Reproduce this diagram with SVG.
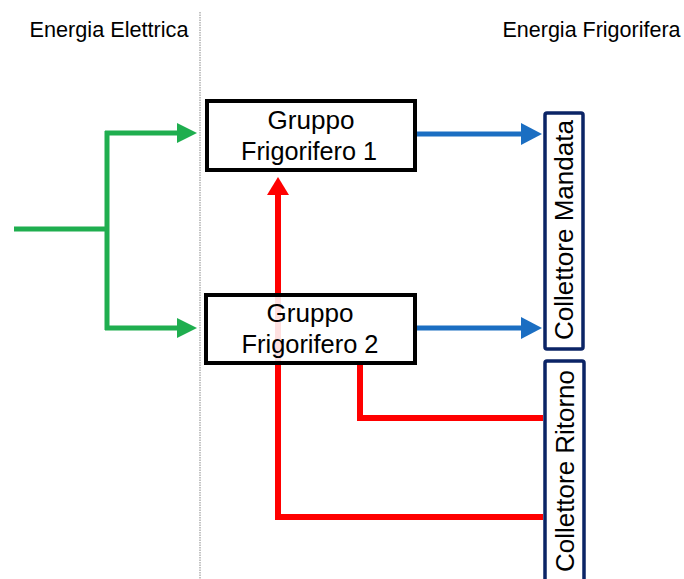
<svg xmlns="http://www.w3.org/2000/svg" width="684" height="579" viewBox="0 0 684 579">
<style>
  .lbl{font-family:"Liberation Sans",Arial,sans-serif;fill:#000;}
  .box{fill:#fff;stroke:#000;stroke-width:4;}
  .coll{fill:#fff;stroke:#0b2466;stroke-width:3.5;}
  .g{fill:none;stroke:#1fae4f;stroke-width:5;}
  .b{fill:none;stroke:#1b6ec2;stroke-width:5;}
  .r{fill:none;stroke:#ff0000;stroke-width:6;}
</style>
<rect width="684" height="579" fill="#fff"/>
<line x1="200" y1="12" x2="200" y2="579" stroke="#888" stroke-width="1" stroke-dasharray="1.5,1"/>
<text class="lbl" x="29.5" y="37" font-size="21.5" textLength="159" lengthAdjust="spacingAndGlyphs">Energia Elettrica</text>
<text class="lbl" x="502.5" y="37" font-size="21.5" textLength="178" lengthAdjust="spacingAndGlyphs">Energia Frigorifera</text>
<g id="connectors">
  <path class="g" d="M14,229 H107 M107,131 V330 M105,133 H180 M105,328 H180"/>
  <polygon points="177,123 197,133 177,143" fill="#1fae4f"/>
  <polygon points="177,318 197,328 177,338" fill="#1fae4f"/>
  <path class="b" d="M417,134 H523 M417,328 H523"/>
  <polygon points="521,123 542,134 521,145" fill="#1b6ec2"/>
  <polygon points="521,317 542,328 521,339" fill="#1b6ec2"/>
  <path class="r" d="M543,517 H278 V193"/>
  <polygon points="267,195 278,177 289,195" fill="#ff0000"/>
  <path class="r" d="M360,363 V418 H543"/>
</g>
<g id="gruppo1">
  <rect class="box" x="207" y="101" width="208" height="69"/>
  <text class="lbl" x="311" y="129" font-size="25" text-anchor="middle" textLength="87" lengthAdjust="spacingAndGlyphs">Gruppo</text>
  <text class="lbl" x="309" y="160" font-size="25" text-anchor="middle" textLength="136" lengthAdjust="spacingAndGlyphs">Frigorifero 1</text>
</g>
<g id="gruppo2">
  <rect class="box" x="206" y="295" width="209" height="68" fill-opacity="0.88"/>
  <text class="lbl" x="310" y="322" font-size="25" text-anchor="middle" textLength="87" lengthAdjust="spacingAndGlyphs">Gruppo</text>
  <text class="lbl" x="310" y="353" font-size="25" text-anchor="middle" textLength="137" lengthAdjust="spacingAndGlyphs">Frigorifero 2</text>
</g>
<g id="collettore-mandata">
  <rect class="coll" x="545" y="113" width="38" height="236" rx="2"/>
  <text class="lbl" transform="translate(573,230) rotate(-90)" font-size="25.5" text-anchor="middle" textLength="220" lengthAdjust="spacingAndGlyphs">Collettore Mandata</text>
</g>
<g id="collettore-ritorno">
  <rect class="coll" x="545" y="361" width="39" height="240" rx="2"/>
  <text class="lbl" transform="translate(574,471) rotate(-90)" font-size="25.5" text-anchor="middle" textLength="202" lengthAdjust="spacingAndGlyphs">Collettore Ritorno</text>
</g>
</svg>
